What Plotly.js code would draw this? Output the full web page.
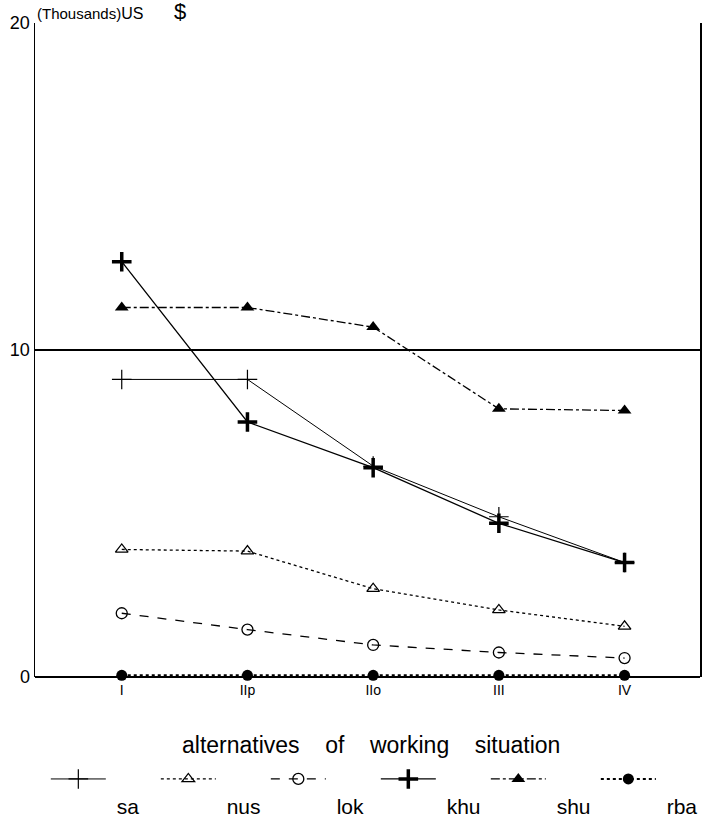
<!DOCTYPE html>
<html>
<head>
<meta charset="utf-8">
<script src="https://cdn.plot.ly/plotly-3.0.1.min.js"></script>
<style>html,body{margin:0;padding:0;background:#fff;}#chart{width:705px;height:819px;}</style>
</head>
<body>
<div id="chart"></div>
<script>
const categories = ["I", "IIp", "IIo", "III", "IV"];
const seriesNames = ["sa", "nus", "lok", "khu", "shu", "rba"];
const sa  = [9.1, 9.1, 6.45, 4.9, 3.5];
const nus = [3.9, 3.85, 2.7, 2.05, 1.55];
const lok = [1.95, 1.45, 0.98, 0.75, 0.58];
const khu = [12.7, 7.8, 6.4, 4.7, 3.5];
const shu = [11.3, 11.3, 10.7, 8.2, 8.15];
const rba = [0.05, 0.05, 0.05, 0.05, 0.05];
const yTicks = [0, 10, 20];
const xTitle = "alternatives of working situation";

const styles = [
  {dash: "solid", width: 1, symbol: "cross-thin-open", size: 14, mlw: 1.2},
  {dash: "dot", width: 1.3, symbol: "triangle-up-open", size: 11, mlw: 1.3},
  {dash: "dash", width: 1.3, symbol: "circle-open", size: 11, mlw: 1.3},
  {dash: "solid", width: 1.3, symbol: "cross-thin-open", size: 14, mlw: 3.5},
  {dash: "dashdot", width: 1.3, symbol: "triangle-up", size: 12, mlw: 0},
  {dash: "dot", width: 2, symbol: "circle", size: 11, mlw: 0}
];
const values = [sa, nus, lok, khu, shu, rba];

const traces = values.map((v, i) => ({
  type: "scatter",
  mode: "lines+markers",
  x: categories,
  y: v,
  name: "\u00a0<br>&nbsp;" + seriesNames[i],
  cliponaxis: false,
  line: {color: "#000", width: styles[i].width, dash: styles[i].dash},
  marker: {color: "#000", symbol: styles[i].symbol, size: styles[i].size,
           line: {color: "#000", width: styles[i].mlw}}
}));

const layout = {
  width: 705, height: 819,
  margin: {l: 35, r: 5, t: 23, b: 142, autoexpand: false},
  paper_bgcolor: "#fff", plot_bgcolor: "#fff",
  font: {family: "Liberation Sans, Arial, sans-serif", color: "#000"},
  showlegend: true,
  legend: {
    orientation: "h", xref: "container", yref: "container",
    x: 0.065, xanchor: "left", y: 0.032, yanchor: "middle",
    valign: "top", font: {size: 21, color: "#000"},
    entrywidth: 40, entrywidthmode: "pixels", itemwidth: 55,
    tracegroupgap: 0,
    bgcolor: "rgba(0,0,0,0)"
  },
  xaxis: {
    type: "category", range: [-0.69, 4.6],
    showgrid: false, zeroline: false, showline: false,
    ticks: "", ticklen: 0, ticklabelstandoff: 3,
    tickfont: {size: 14, family: "Liberation Sans Narrow, Liberation Sans, sans-serif"}
  },
  yaxis: {
    range: [0, 20], tickvals: yTicks, ticktext: yTicks.map(String),
    showgrid: true, gridcolor: "#000", gridwidth: 1.5,
    zeroline: true, zerolinecolor: "#000", zerolinewidth: 2,
    showline: true, linecolor: "#000", linewidth: 1.5, mirror: true,
    ticks: "", tickfont: {size: 18}
  },
  annotations: [{
    xref: "paper", yref: "paper", x: 0, y: 1, xanchor: "left", yanchor: "bottom",
    showarrow: false, yshift: -3,
    text: "<span style='font-size:15px'>(Thousands)</span><span style='font-size:16px'>US</span><span style='font-size:22px'>&nbsp;&nbsp;&nbsp;&nbsp; $</span>"
  }, {
    xref: "paper", yref: "paper", x: 0.505, y: -0.104, xanchor: "center", yanchor: "middle",
    showarrow: false,
    font: {size: 23},
    text: xTitle.split(" ").join("&nbsp;&nbsp;&nbsp;&nbsp;")
  }]
};

Plotly.newPlot("chart", traces, layout, {displayModeBar: false, staticPlot: true});
</script>
</body>
</html>
